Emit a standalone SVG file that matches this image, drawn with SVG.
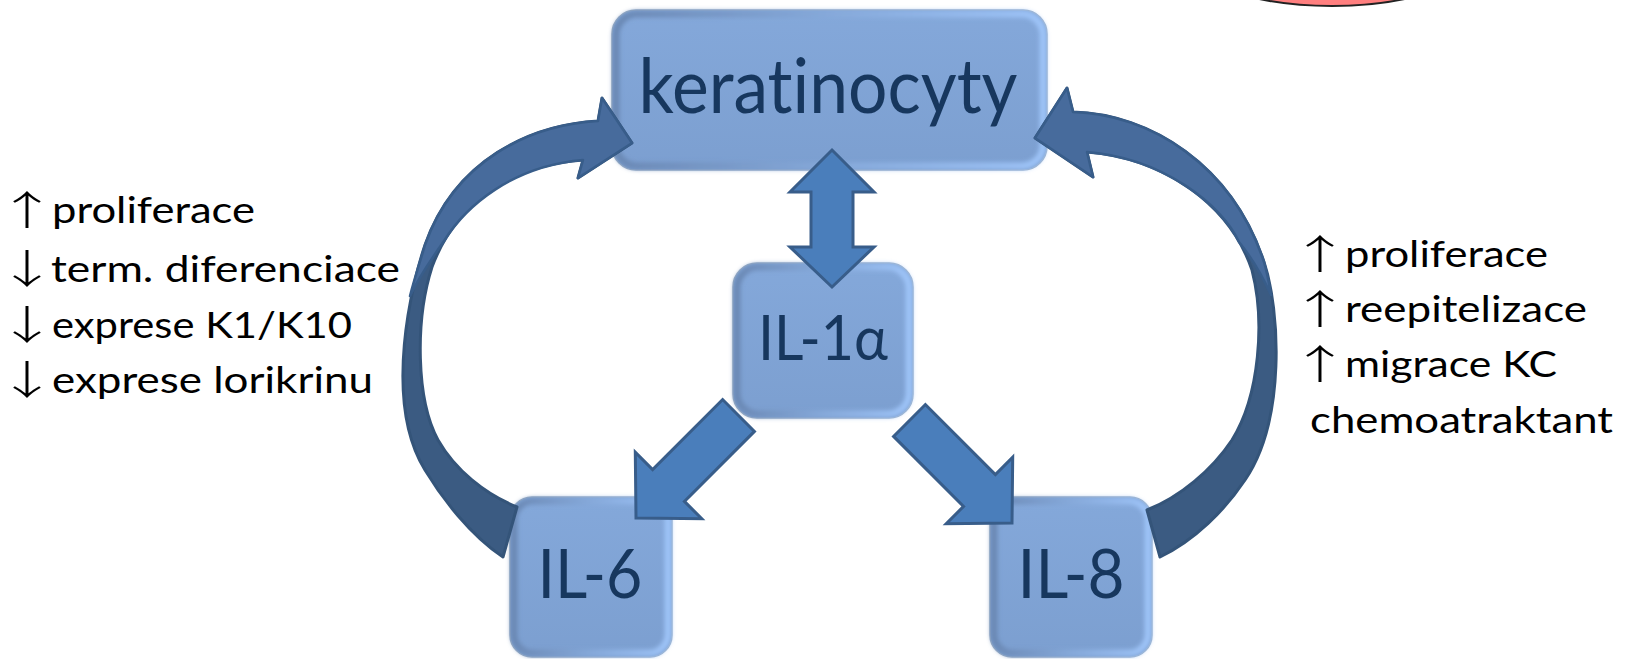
<svg xmlns="http://www.w3.org/2000/svg" width="1633" height="659" viewBox="0 0 1633 659">
<defs>
<linearGradient id="rimH" x1="0" y1="0" x2="1" y2="0">
<stop offset="0" stop-color="#6A88B4"/>
<stop offset="0.5" stop-color="#86A9DA"/>
<stop offset="1" stop-color="#9EC4F8"/>
</linearGradient>
<linearGradient id="fillV" x1="0" y1="0" x2="0" y2="1">
<stop offset="0" stop-color="#84A8DA"/>
<stop offset="1" stop-color="#7C9FD0"/>
</linearGradient>
<filter id="soft" x="-10%" y="-10%" width="120%" height="120%">
<feGaussianBlur stdDeviation="2.2"/>
</filter>
<style>
.box{fill:url(#fillV);stroke:#9AAFC8;stroke-width:1.5}
.rim{fill:none;stroke:url(#rimH);stroke-width:7;filter:url(#soft)}
text{font-variant-ligatures:none}
.lbl{font-family:Lato,"Open Sans",sans-serif;fill:#17375E;text-anchor:middle}
.side{font-family:Lato,"Open Sans",sans-serif;fill:#000;font-size:37px}
.arr{font-family:"Noto Sans CJK JP","DejaVu Sans",sans-serif;fill:#000;font-size:40px;font-weight:300}
.str{fill:#4A7EBB;stroke:#385D8A;stroke-width:3;stroke-linejoin:miter}
.cl{fill:#476B9C;stroke:#385D8A;stroke-width:2.5;stroke-linejoin:round}
.cd{fill:#3B5B82;stroke:#345479;stroke-width:3;stroke-linejoin:round}
</style>
</defs>
<rect width="1633" height="659" fill="#FFFFFF"/>
<ellipse cx="1332" cy="-60" rx="160" ry="66" fill="#FF7F7F" stroke="#222" stroke-width="2"/>

<g id="keratinocyty">
<rect class="box" x="612" y="10" width="435" height="160" rx="24"/>
<rect class="rim" x="616" y="14" width="427" height="152" rx="21"/>
<text class="lbl" x="828" y="113" font-size="76" textLength="379" lengthAdjust="spacingAndGlyphs">keratinocyty</text>
</g>
<g id="il1a">
<rect class="box" x="733" y="263" width="180" height="155" rx="24"/>
<rect class="rim" x="737" y="267" width="172" height="147" rx="21"/>
<text class="lbl" x="823" y="360" font-size="62" textLength="130" lengthAdjust="spacingAndGlyphs">IL-1α</text>
</g>
<g id="il6">
<rect class="box" x="510" y="497" width="162" height="160" rx="22"/>
<rect class="rim" x="514" y="501" width="154" height="152" rx="19"/>
<text class="lbl" x="590" y="598" font-size="68" textLength="105" lengthAdjust="spacingAndGlyphs">IL-6</text>
</g>
<g id="il8">
<rect class="box" x="990" y="497" width="162" height="160" rx="22"/>
<rect class="rim" x="994" y="501" width="154" height="152" rx="19"/>
<text class="lbl" x="1071" y="598" font-size="68" textLength="107" lengthAdjust="spacingAndGlyphs">IL-8</text>
</g>

<g id="connectors">
<path class="str" d="M832,150 L874,192 L853,192 L853,247 L874,247 L832,287 L790,247 L811,247 L811,192 L790,192 Z"/>
<path class="str" transform="translate(636,518) rotate(135)" d="M0,0 L-46,-47 L-46,-22.5 L-145,-22.5 L-145,22.5 L-46,22.5 L-46,47 Z"/>
<path class="str" transform="translate(1012,523) rotate(45)" d="M0,0 L-46,-47 L-46,-22.5 L-145,-22.5 L-145,22.5 L-46,22.5 L-46,47 Z"/>
<path class="cd" d="M598,121 C530,125 455,160 425,245 C413,280 382,400 425,470 C442,498 470,535 503,557 L517,507 C485,494 455,470 438,440 C416,400 415,320 432,267 C455,205 510,165 583,160 L578,178 L632,143 L602,98 Z"/>
<path class="cl" d="M583,160 L578,178 L632,143 L602,98 L598,121 C530,125 455,160 425,245 C420,262 414,280 410,296 C420,275 432,258 444,241 C466,206 512,166 583,160 Z"/>
<path class="cd" d="M1073,112 C1150,114 1232,165 1264,262 C1280,310 1286,420 1245,480 C1225,510 1195,540 1160,557 L1147,510 C1180,497 1212,470 1232,440 C1260,395 1265,320 1252,270 C1230,205 1165,158 1087,152 L1093,177 L1035,138 L1067,88 Z"/>
<path class="cl" d="M1087,152 L1093,177 L1035,138 L1067,88 L1073,112 C1150,114 1232,165 1264,262 C1267,272 1269,283 1271,295 C1262,275 1252,258 1239,242 C1222,205 1163,158 1087,152 Z"/>
</g>

<g id="left-text">
<text class="arr" transform="translate(-3,225) scale(1.5,1)">↑</text>
<text class="side" x="52" y="223" textLength="203" lengthAdjust="spacingAndGlyphs">proliferace</text>
<text class="arr" transform="translate(-3,283) scale(1.5,1)">↓</text>
<text class="side" x="51" y="282" textLength="349" lengthAdjust="spacingAndGlyphs">term. diferenciace</text>
<text class="arr" transform="translate(-3,339) scale(1.5,1)">↓</text>
<text class="side" x="52" y="338" textLength="300" lengthAdjust="spacingAndGlyphs">exprese K1/K10</text>
<text class="arr" transform="translate(-3,394) scale(1.5,1)">↓</text>
<text class="side" x="52" y="393" textLength="321" lengthAdjust="spacingAndGlyphs">exprese lorikrinu</text>
</g>
<g id="right-text">
<text class="arr" transform="translate(1290,269) scale(1.5,1)">↑</text>
<text class="side" x="1345" y="267" textLength="203" lengthAdjust="spacingAndGlyphs">proliferace</text>
<text class="arr" transform="translate(1290,324) scale(1.5,1)">↑</text>
<text class="side" x="1345" y="322" textLength="242" lengthAdjust="spacingAndGlyphs">reepitelizace</text>
<text class="arr" transform="translate(1290,379) scale(1.5,1)">↑</text>
<text class="side" x="1345" y="377" textLength="212" lengthAdjust="spacingAndGlyphs">migrace KC</text>
<text class="side" x="1310" y="433" textLength="303" lengthAdjust="spacingAndGlyphs">chemoatraktant</text>
</g>
</svg>
